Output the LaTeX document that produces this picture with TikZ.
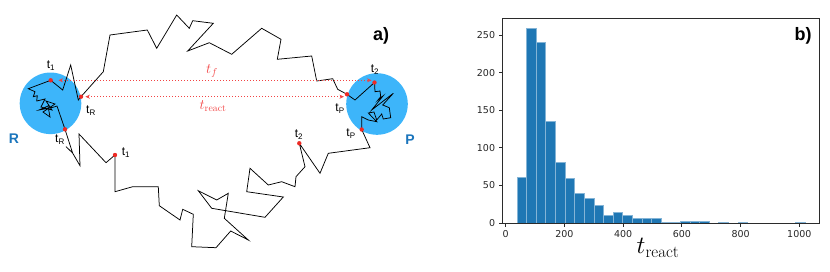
\documentclass[tikz,border=0pt]{standalone}
\usepackage{fontspec}
\usepackage{xcolor}
\usepackage{tikz}
\usetikzlibrary{calc,positioning,arrows.meta}
\newfontfamily\helv{Liberation Sans}
\newfontfamily\dejavu{DejaVu Sans}
\definecolor{basinBlue}{HTML}{3DB5FA}
\definecolor{basinText}{HTML}{1B75BC}
\definecolor{hitRed}{HTML}{EE2A24}
\definecolor{spanRed}{HTML}{F24444}
\definecolor{barBlue}{HTML}{1F77B4}
\definecolor{spineGray}{HTML}{2B2B2B}
\newcommand{\tsub}[1]{t\textsubscript{#1}}
\tikzset{
    basin/.style={circle, fill=basinBlue, draw=none, minimum size=61.6pt, inner sep=0pt},
    basinLbl/.style={font=\helv\bfseries\fontsize{14}{14}\selectfont, text=basinText, inner sep=0pt},
    panelTag/.style={font=\helv\bfseries\fontsize{18}{18}\selectfont, inner sep=0pt},
    walk/.style={draw=black, line width=0.75pt, line join=miter},
    hit/.style={circle, fill=hitRed, inner sep=0pt, minimum size=4.4pt},
    tLab/.style={font=\helv\fontsize{12}{12}\selectfont, inner sep=0pt},
    span/.style={draw=spanRed, dotted, line width=1pt,
                 {Stealth[length=4.5pt,width=4pt]}-{Stealth[length=4.5pt,width=4pt]}},
    spanLbl/.style={text=spanRed, font=\fontsize{14}{14}\selectfont, inner sep=0pt},
    bar/.style={fill=barBlue, draw=barBlue!55!white, line width=0.4pt},
    spine/.style={draw=spineGray, line width=0.8pt},
    tick/.style={draw=spineGray, line width=0.8pt},
    tickLbl/.style={font=\dejavu\fontsize{9.5}{10}\selectfont, text=black!85, inner sep=0pt},
    axisLbl/.style={font=\fontsize{24}{26}\selectfont, inner sep=0pt},
}

\begin{document}
\begin{tikzpicture}[x=1pt,y=-1pt]
\useasboundingbox (0,0) rectangle (830,271);

% ---------------- a) TRAJECTORY PANEL ----------------
\node[basin] (basinR) at (50.5,103.3) {};
\node[basin] (basinP) at (377,104) {};
\node[basinLbl] (labR) at (14,138.5) {R};
\node[basinLbl] (labP) at (410,139.5) {P};
\node[panelTag] (tagA) at (381,36) {a)};

% crossing times on the trajectory
\coordinate (rOne)   at (50.7,80.3);
\coordinate (rExit)  at (81,96.7);
\coordinate (rOut)   at (65,129.3);
\coordinate (bOne)   at (115,155);
\coordinate (bTwo)   at (299.3,143.3);
\coordinate (pIn)    at (361.7,129.5);
\coordinate (pEnter) at (347,94.3);
\coordinate (pTwo)   at (374.5,82.5);

% trajectory: R -> upper excursion -> P -> lower excursion -> R
\draw[walk] (rOne) -- (62.7,90) -- (70.7,65) -- (78.3,100) -- (rExit)
  -- (103.3,71.7) -- (110,35) -- (147.3,30) -- (156.7,48.3) -- (176.7,15)
  -- (189.3,28.3) -- (192.7,20.7) -- (213.3,23.3) -- (187.7,51) -- (209.3,42.7)
  -- (231.7,54.3) -- (261.7,28.3) -- (281,39.3) -- (277.3,59.3) -- (311.7,56)
  -- (316.7,81) -- (332.7,78.7) -- (337.7,89.3) -- (pEnter)
  -- (355,100) -- (pTwo)
  -- (375,91.7) -- (380,91) -- (380.7,96.7) -- (378,100) -- (383,96)
  -- (371.7,110) -- (393.3,93.3) -- (382.7,105) -- (389.3,107.7) -- (390.7,117.7)
  -- (383.3,119) -- (381.7,114) -- (376.7,120) -- (374,112) -- (368.3,113)
  -- (376.7,121.7) -- (368.3,120) -- (361.7,116.7) -- (pIn)
  -- (370,147.7) -- (328.3,153.3) -- (320,173.3) -- (bTwo)
  -- (305,166.7) -- (296,176.7) -- (295,186.7) -- (281.7,181.7) -- (268.3,185)
  -- (250,168.3) -- (246.7,191.7) -- (283.3,197) -- (265,217.3) -- (211.7,208.3)
  -- (198.3,190.7) -- (216.7,200) -- (228.3,193.3) -- (224.3,218.3) -- (248.3,240)
  -- (230.7,231) -- (216,247.7) -- (191.7,246.7) -- (193.3,214.3) -- (182.7,209.3)
  -- (180,220) -- (159.3,205.7) -- (158.3,186.7) -- (132.7,186.7) -- (115,191.7)
  -- (bOne)
  -- (106,162.7) -- (79,134) -- (80,165.7) -- (72.6,153) -- (66,146.6) -- (72.6,153)
  -- (rOut)
  -- (57,106) -- (53,107.3) -- (39,110) -- (48,106) -- (50,117) -- (43,112)
  -- (55,104) -- (46,101) -- (52,110) -- (41,107) -- (45,99) -- (36.7,101)
  -- (37.3,95.7) -- (33.3,96.7) -- (35,91.7) -- (28.3,88.7) -- cycle;

\node[hit] (rOneDot)   at (rOne) {};
\node[hit] (rExitDot)  at (rExit) {};
\node[hit] (rOutDot)   at (rOut) {};
\node[hit] (bOneDot)   at (bOne) {};
\node[hit] (bTwoDot)   at (bTwo) {};
\node[hit] (pInDot)    at (pIn) {};
\node[hit] (pEnterDot) at (pEnter) {};
\node[hit] (pTwoDot)   at (pTwo) {};

% time spans
\draw[span, shorten <=5.4pt, shorten >=3pt] (rOneDot) -- (rOneDot -| pTwoDot.center);
\draw[span, shorten <=2pt, shorten >=3pt] (rExitDot) -- (rExitDot -| pEnterDot.center);
\node[spanLbl] (lblTf) at (212,71)  {$t_f$};
\node[spanLbl] (lblTr) at (213,106) {$t_\mathrm{react}$};

% time labels
\node[tLab] (labROne)   at (51,66)     {\tsub{1}};
\node[tLab] (labRExit)  at (91,110.5)  {\tsub{R}};
\node[tLab] (labROut)   at (60,139.5)  {\tsub{R}};
\node[tLab] (labBOne)   at (126,152.5) {\tsub{1}};
\node[tLab] (labBTwo)   at (299,135)   {\tsub{2}};
\node[tLab] (labPIn)    at (351,134)   {\tsub{P}};
\node[tLab] (labPEnter) at (340,108.5) {\tsub{P}};
\node[tLab] (labPTwo)   at (375,69.5)  {\tsub{2}};

% ---------------- b) HISTOGRAM PANEL ----------------
\begin{scope}[shift={(505.7,223)}, x=0.2936pt, y=0.752pt]
  \foreach \n [count=\i from 0] in {61,259,240,136,81,59,40,33,24,10,14,11,7,7,6,
                                    1,1,3,2,2,0,1,0,1,0,0,0,0,0,1}
    \filldraw[bar] ({38+32.73*\i},0) rectangle ({38+32.73*(\i+1)},\n);
  \draw[spine] (-11,0) rectangle (1069,272);
  \foreach \x in {0,200,400,600,800,1000}
    \draw[tick] (\x,0) -- ++(0,-3.5pt) node[tickLbl, below=3.5pt] (xt\x) {\x};
  \foreach \y in {0,50,100,150,200,250}
    \draw[tick] (-11,\y) -- ++(-3.5pt,0) node[tickLbl, left=3.5pt] (yt\y) {\y};
\end{scope}
\node[axisLbl] (lblX) at (658,248) {$t_\mathrm{react}$};
\node[panelTag] (tagB) at (803,36) {b)};

\end{tikzpicture}
\end{document}
